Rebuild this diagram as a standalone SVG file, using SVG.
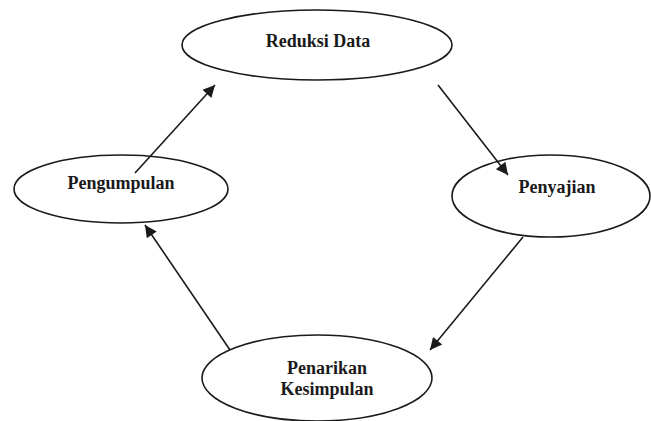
<svg xmlns="http://www.w3.org/2000/svg" width="651" height="421" viewBox="0 0 651 421">
<style>
.n{fill:#fff;stroke:#1a1a1a;stroke-width:1.6}
.t{font-family:"Liberation Serif","Times New Roman",serif;font-weight:bold;font-size:18px;fill:#1a1a1a;text-anchor:middle}
.c{stroke:#1a1a1a;stroke-width:1.6;fill:none;marker-end:url(#ah)}
</style>
<defs>
<marker id="ah" viewBox="0 0 10 10" refX="10" refY="5" markerWidth="14" markerHeight="12" markerUnits="userSpaceOnUse" orient="auto">
<path d="M0,0 L10,5 L0,10 z" fill="#1a1a1a"/>
</marker>
</defs>
<rect width="651" height="421" fill="#fff"/>
<g id="reduksi">
<ellipse cx="317" cy="45" rx="135" ry="35" class="n"/>
<text x="318" y="47" class="t">Reduksi Data</text>
</g>
<g id="pengumpulan">
<ellipse cx="121" cy="189" rx="107" ry="34" class="n"/>
<text x="121" y="189" class="t">Pengumpulan</text>
</g>
<g id="penyajian">
<ellipse cx="551" cy="196" rx="99" ry="41" class="n"/>
<text x="557" y="193" class="t">Penyajian</text>
</g>
<g id="penarikan">
<ellipse cx="317" cy="378" rx="115" ry="43" class="n"/>
<text x="327" y="374" class="t">Penarikan</text>
<text x="327" y="395" class="t">Kesimpulan</text>
</g>
<g id="connectors">
<line x1="135" y1="173" x2="215" y2="85" class="c"/>
<line x1="438" y1="85" x2="508" y2="175" class="c"/>
<line x1="523" y1="237" x2="430" y2="350" class="c"/>
<line x1="230" y1="350" x2="145" y2="225" class="c"/>
</g>
</svg>
